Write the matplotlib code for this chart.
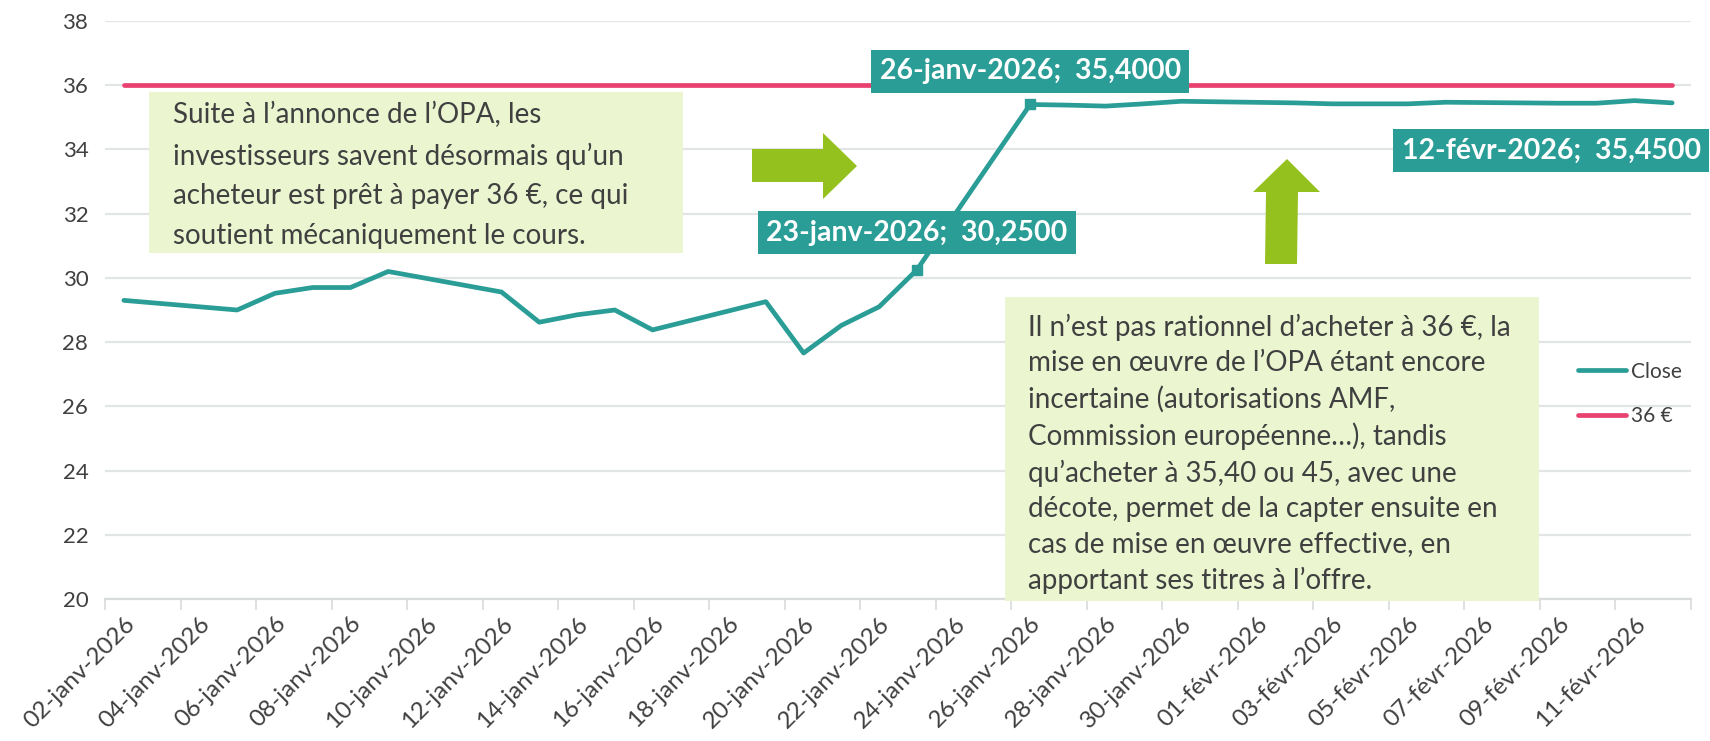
import numpy as np
import pandas as pd
import matplotlib
matplotlib.use("Agg")
import matplotlib.pyplot as plt
from matplotlib.patches import Rectangle, Polygon

plt.rcParams['font.family'] = ['Lato', 'DejaVu Sans']

# ---- données ----
dates = ["2026-01-02", "2026-01-05", "2026-01-06", "2026-01-07", "2026-01-08",
         "2026-01-09", "2026-01-12", "2026-01-13", "2026-01-14", "2026-01-15",
         "2026-01-16", "2026-01-19", "2026-01-20", "2026-01-21", "2026-01-22",
         "2026-01-23", "2026-01-26", "2026-01-27", "2026-01-28", "2026-01-29",
         "2026-01-30", "2026-02-02", "2026-02-03", "2026-02-04", "2026-02-05",
         "2026-02-06", "2026-02-09", "2026-02-10", "2026-02-11", "2026-02-12"]
close = [29.30, 29.00, 29.52, 29.70, 29.70,
         30.20, 29.56, 28.62, 28.85, 29.00,
         28.38, 29.26, 27.66, 28.52, 29.10,
         30.25, 35.40, 35.38, 35.35, 35.42,
         35.50, 35.45, 35.42, 35.42, 35.42,
         35.47, 35.44, 35.44, 35.52, 35.45]
offer = [36.0] * len(dates)

tick_labels = ["02-janv-2026", "04-janv-2026", "06-janv-2026", "08-janv-2026",
               "10-janv-2026", "12-janv-2026", "14-janv-2026", "16-janv-2026",
               "18-janv-2026", "20-janv-2026", "22-janv-2026", "24-janv-2026",
               "26-janv-2026", "28-janv-2026", "30-janv-2026", "01-févr-2026",
               "03-févr-2026", "05-févr-2026", "07-févr-2026", "09-févr-2026",
               "11-févr-2026"]
y_ticks = [20, 22, 24, 26, 28, 30, 32, 34, 36, 38]

labelled = {"2026-01-23": "23-janv-2026;  30,2500",
            "2026-01-26": "26-janv-2026;  35,4000",
            "2026-02-12": "12-févr-2026;  35,4500"}

note_left = ("Suite à l’annonce de l’OPA, les\n"
             "investisseurs savent désormais qu’un\n"
             "acheteur est prêt à payer 36 €, ce qui\n"
             "soutient mécaniquement le cours.")
note_right = ("Il n’est pas rationnel d’acheter à 36 €, la\n"
              "mise en œuvre de l’OPA étant encore\n"
              "incertaine (autorisations AMF,\n"
              "Commission européenne…), tandis\n"
              "qu’acheter à 35,40 ou 45, avec une\n"
              "décote, permet de la capter ensuite en\n"
              "cas de mise en œuvre effective, en\n"
              "apportant ses titres à l’offre.")

TEAL = "#2A9D96"
PINK = "#E8416F"
GREEN = "#95C11F"
BOXBG = "#EBF5D0"
TXT = "#404040"

W, H = 1710, 741


def fx(px):
    return px / W


def fy(py):
    return 1 - py / H


# jours depuis le 2 janvier
d = pd.to_datetime(dates)
x = np.asarray((d - d[0]).days)

fig = plt.figure(figsize=(W / 100, H / 100), dpi=100)
ax = fig.add_axes([fx(105), fy(599), fx(1691) - fx(105), fy(21) - fy(599)])

l_offer, = ax.plot(x, offer, color=PINK, lw=3.4, solid_capstyle="round", label="36 €", zorder=3)
l_close, = ax.plot(x, close, color=TEAL, lw=3.4, solid_capstyle="round", label="Close", zorder=4)

# points étiquetés
offsets = {"2026-01-23": (0, 37), "2026-01-26": (0, 33), "2026-02-12": (-121, -48)}
for ds, txt in labelled.items():
    i = dates.index(ds)
    if ds != "2026-02-12":
        ax.plot(x[i], close[i], marker="s", ms=7, color=TEAL, zorder=5)
    ax.annotate(txt, (x[i], close[i]), xytext=offsets[ds], textcoords="offset pixels",
                ha="center", va="center", color="white", fontsize=20.5, fontweight="bold",
                bbox=dict(boxstyle="square,pad=0.3", fc=TEAL, ec="none"), zorder=6)

ax.set_xlim(-0.5, 41.5)
ax.set_ylim(20, 38)
ax.set_yticks(y_ticks)
ax.set_xticks(np.arange(0, 42, 2))
ax.set_xticklabels(tick_labels, rotation=45, ha="right", va="top", rotation_mode="anchor")
ax.set_xticks(np.arange(-0.5, 42, 2), minor=True)
ax.tick_params(axis="x", which="major", length=0, pad=10, labelsize=17.5, labelcolor=TXT)
ax.tick_params(axis="x", which="minor", length=8, width=1.2, color="#D9DCDC")
ax.tick_params(axis="y", length=0, pad=12, labelsize=16, labelcolor=TXT)
ax.grid(axis="y", color="#E1E5E5", lw=1.6)
ax.set_axisbelow(True)
for s in ["top", "right", "left"]:
    ax.spines[s].set_visible(False)
ax.spines["bottom"].set_color("#D9DCDC")
ax.spines["bottom"].set_linewidth(1.6)

ax.legend(handles=[l_close, l_offer], loc="center left",
          bbox_to_anchor=(fx(1559), fy(394)), bbox_transform=fig.transFigure,
          frameon=False, fontsize=15, handlelength=2.3, handletextpad=0.25,
          labelspacing=1.2, labelcolor=TXT)

# encadrés de commentaire
fig.add_artist(Rectangle((fx(149), fy(253)), fx(683) - fx(149), fy(92) - fy(253),
                         transform=fig.transFigure, fc=BOXBG, ec="none", zorder=7))
fig.text(fx(173), fy(102), note_left, ha="left", va="top", fontsize=20,
         color=TXT, linespacing=1.64, zorder=8)
fig.add_artist(Rectangle((fx(1005), fy(601)), fx(1539) - fx(1005), fy(297) - fy(601),
                         transform=fig.transFigure, fc=BOXBG, ec="none", zorder=7))
fig.text(fx(1028), fy(314), note_right, ha="left", va="top", fontsize=20,
         color=TXT, linespacing=1.43, zorder=8)

# flèches
right_arrow = [(752, 149), (823, 149), (823, 133), (857, 166), (823, 199), (823, 182), (752, 182)]
up_arrow = [(1266, 192), (1253, 192), (1287, 159), (1320, 192), (1298, 192), (1297, 264), (1265, 264)]
for pts in (right_arrow, up_arrow):
    fig.add_artist(Polygon([(fx(a), fy(b)) for a, b in pts], closed=True,
                           transform=fig.transFigure, fc=GREEN, ec="none", zorder=7))

fig.savefig("out.png", dpi=100)
